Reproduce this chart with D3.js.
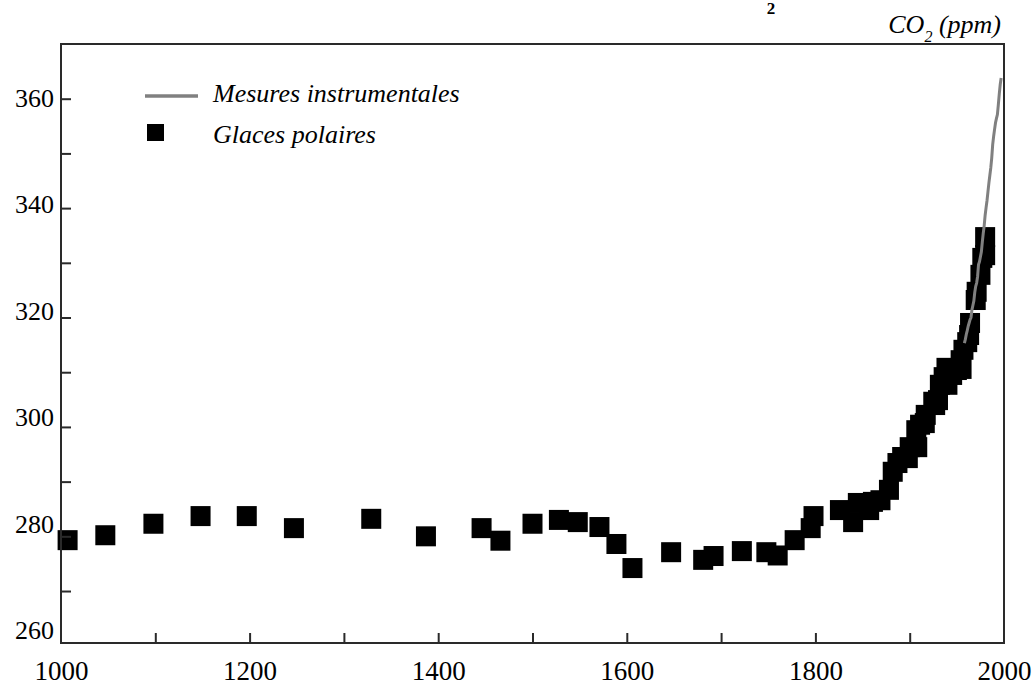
<!DOCTYPE html>
<html><head><meta charset="utf-8">
<script src="https://cdn.jsdelivr.net/npm/d3@7"></script>
<style>
body{margin:0;background:#fff}
</style>
</head><body>
<svg id="c" width="1033" height="685"></svg>
<script>
// ---- data ----
const iceYears = [1007,1047,1098,1148,1197,1247,1329,1387,1446,1466,
  1500,1528,1548,1571,1589,1606,1647,1681,1692,1722,
  1748,1760,1778,1795,1798,1826,1840,1845,1857,1861,
  1869,1878,1882,1887,1892,1898,1900,1907,1908,1911,
  1916,1917,1925,1927,1930,1932,1936,1939,1940,1945,
  1950,1954,1955,1957,1961,1963,1964,1970,1971,1975,
  1977,1980,1980];
const iceValues = [279.3,280.2,282.3,283.7,283.7,281.5,283.2,280.0,281.5,279.2,
  282.3,283.0,282.6,281.7,278.6,274.2,277.1,275.7,276.4,277.3,
  277.1,276.5,279.3,281.5,283.7,284.8,282.6,286.1,284.8,286.3,
  286.6,288.5,291.8,293.4,294.5,294.3,296.3,299.4,296.3,300.4,
  300.7,302.2,304.6,304.0,304.9,307.7,309.1,310.8,307.7,309.5,
  310.4,312.2,310.6,314.1,315.5,316.8,319.0,323.2,324.7,327.8,
  330.9,331.4,334.7];
const instYears = [1958,1959,1960,1961,1962,1963,1964,1965,1966,1967,
  1968,1969,1970,1971,1972,1973,1974,1975,1976,1977,
  1978,1979,1980,1981,1982,1983,1984,1985,1986,1987,
  1988,1989,1990,1991,1992,1993,1994,1995,1996,1997];
const instValues = [315.3,316.0,316.9,317.6,318.4,319.0,319.6,320.0,321.4,322.2,
  323.0,324.6,325.7,326.3,327.5,329.7,330.2,331.1,332.0,333.8,
  335.4,336.8,338.7,340.1,341.4,343.0,344.6,346.0,347.4,349.2,
  351.6,353.1,354.4,355.6,356.4,357.1,358.9,360.9,362.6,363.8];
const xLabelTicks = [1000,1200,1400,1600,1800,2000];
const xMarkTicks = [1100,1200,1300,1400,1500,1600,1700,1800,1900];
const yLabelTicks = [260,280,300,320,340,360];
const yMarkTicks = [270,280,290,300,310,320,330,340,350,360];
const legendLabels = ["Mesures instrumentales","Glaces polaires"];
const unitLabel = ["CO","2"," (ppm)"];

// ---- layout ----
const FONT = '"Liberation Serif"';
const svg = d3.select("#c");
const L = 61, R = 1004, T = 44, B = 643;
const x = d3.scaleLinear().domain([1000,2000]).range([L,R]);
const y = d3.scaleLinear().domain([260.5,370]).range([B,T]);
// tick labels in the reference sit slightly off their ticks
const yLab = d3.scaleLinear().domain([260,360]).range([630.5,98]);
const sq = 20;

// title glyph at the top of the picture
svg.append("text").attr("x",771).attr("y",14).attr("text-anchor","middle")
  .style("font-family",FONT).style("font-weight","bold").style("font-size","17px").text("2");

// ice-core squares
svg.append("g").selectAll("rect").data(iceYears.map((d,i)=>[d,iceValues[i]]))
  .join("rect")
  .attr("x",d=>x(d[0])-sq/2).attr("y",d=>y(d[1])-sq/2)
  .attr("width",sq).attr("height",sq).attr("fill","#000");

// instrumental line
svg.append("path")
  .datum(instYears.map((d,i)=>[d,instValues[i]]))
  .attr("fill","none").attr("stroke","#808080").attr("stroke-width",3)
  .attr("d",d3.line().x(d=>x(d[0])).y(d=>y(d[1])));

// frame
svg.append("rect").attr("x",L).attr("y",T).attr("width",R-L).attr("height",B-T)
  .attr("fill","none").attr("stroke","#2a2a2a").attr("stroke-width",2);

// tick marks (inside)
const gxm = svg.append("g").attr("transform",`translate(0,${B})`)
  .call(d3.axisBottom(x).tickValues(xMarkTicks).tickSize(-10).tickFormat(""));
gxm.select(".domain").remove();
gxm.selectAll("line").attr("stroke","#2a2a2a").attr("stroke-width",2);

const gym = svg.append("g").attr("transform",`translate(${L},0)`)
  .call(d3.axisLeft(y).tickValues(yMarkTicks).tickSize(-10).tickFormat(""));
gym.select(".domain").remove();
gym.selectAll("line").attr("stroke","#2a2a2a").attr("stroke-width",2);

// tick labels
const gxl = svg.append("g").attr("transform",`translate(0,${B})`)
  .call(d3.axisBottom(x).tickValues(xLabelTicks).tickSize(0).tickPadding(18).tickFormat(d3.format("d")));
gxl.select(".domain").remove();
gxl.selectAll("text").style("font-size","27px").attr("fill","#000").style("font-family",FONT);

const gyl = svg.append("g").attr("transform",`translate(54,0)`)
  .call(d3.axisLeft(yLab).tickValues(yLabelTicks).tickSize(0).tickPadding(0).tickFormat(d3.format("d")));
gyl.select(".domain").remove();
gyl.selectAll("text").style("font-size","26px").attr("fill","#000").style("font-family",FONT);

// unit label
const u = svg.append("text").attr("x",1001).attr("y",33).attr("text-anchor","end")
  .style("font-family",FONT).style("font-style","italic").style("font-size","26px");
u.append("tspan").text(unitLabel[0]);
u.append("tspan").attr("dy",9).style("font-size","16px").text(unitLabel[1]);
u.append("tspan").attr("dy",-9).text(unitLabel[2]);

// legend
svg.append("line").attr("x1",145).attr("x2",198).attr("y1",96).attr("y2",96)
  .attr("stroke","#808080").attr("stroke-width",3.3);
svg.append("rect").attr("x",147).attr("y",124).attr("width",17).attr("height",17).attr("fill","#000");
svg.selectAll("text.leg").data(legendLabels).join("text").attr("class","leg")
  .attr("x",213).attr("y",(d,i)=>i===0?102:143)
  .style("font-family",FONT).style("font-style","italic").style("font-size","26px").text(d=>d);
</script>
</body></html>
